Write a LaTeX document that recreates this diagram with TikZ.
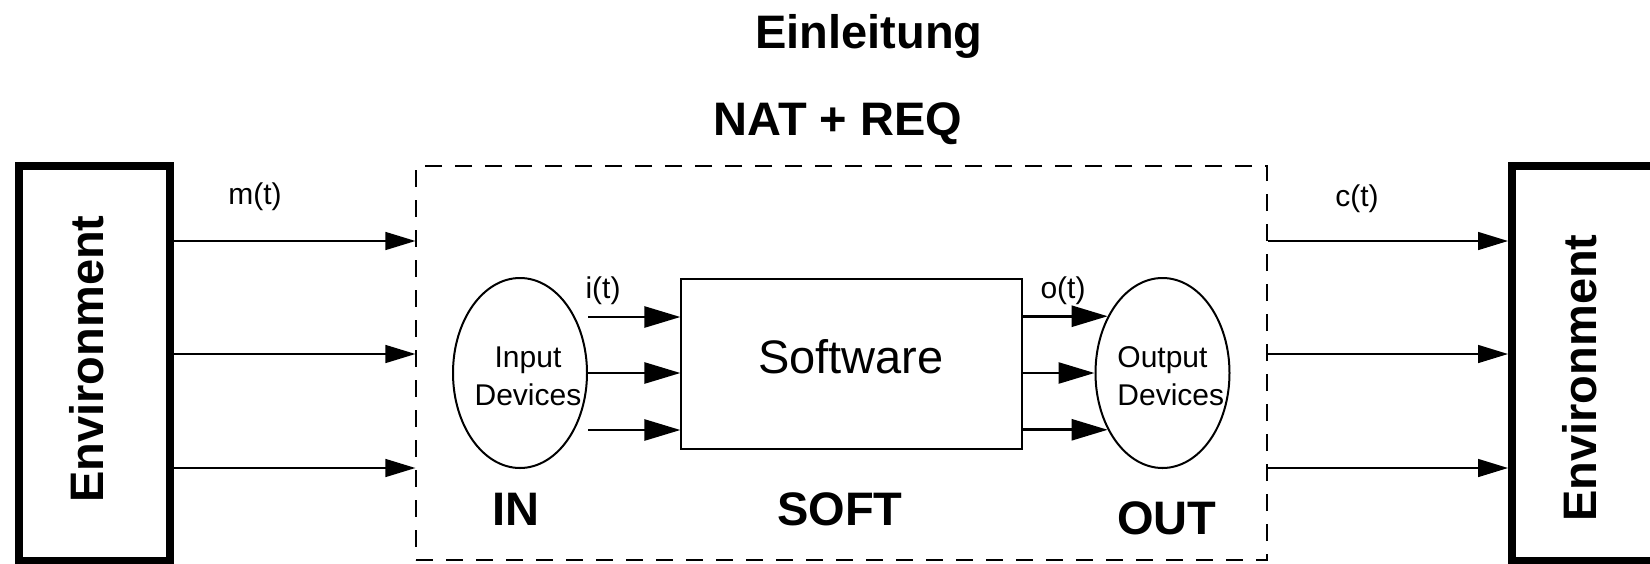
\documentclass[tikz,border=0pt]{standalone}
\usepackage{fontspec}
\setmainfont{Liberation Sans}
\usetikzlibrary{arrows.meta,positioning,shapes.geometric}

\begin{document}
\begin{tikzpicture}[x=0.5pt,y=-0.5pt,
    envbox/.style={draw,line width=4pt,minimum width=75.5pt,minimum height=197.5pt,inner sep=0pt},
    sysbox/.style={draw,line width=0.6pt,dash pattern=on 8.5pt off 6.5pt,minimum width=425.5pt,minimum height=197pt,inner sep=0pt},
    swbox/.style={draw,line width=0.6pt,minimum width=170.5pt,minimum height=85pt,inner sep=0pt},
    dev/.style={draw,ellipse,line width=1pt,minimum width=67pt,minimum height=95pt,inner sep=0pt},
    envarrow/.style={line width=0.75pt,-{Triangle[length=15pt,width=9pt]}},
    devarrow/.style={line width=1.3pt,-{Triangle[length=18pt,width=10.5pt]}},
    big/.style={font=\fontsize{23.5}{28}\selectfont\bfseries},
    small/.style={font=\fontsize{15}{19}\selectfont}]
  \useasboundingbox (0,0) rectangle (1650,563);

  \node[big,anchor=base] (title) at (869,48) {Einleitung};
  \node[big,anchor=base] (natreq) at (838,135) {NAT + REQ};

  \node[envbox] (envl) at (94.5,363.5) {};
  \node[envbox,minimum width=84pt] (envr) at (1596,363.5) {};
  \node[big,rotate=90] (envltext) at (87,359) {Environment};
  \node[big,rotate=90] (envrtext) at (1580,378) {Environment};

  \node[sysbox] (sys) at (841.5,363) {};
  \node[swbox] (sw) at (851.5,364) {};
  \node[font=\fontsize{23.5}{28}\selectfont,anchor=base] (swtext) at (851,373) {Software};

  \node[dev] (in) at (520,373) {};
  \node[dev] (out) at (1162.5,373) {};
  \node[small,align=center] (intext) at (528,376) {Input\\Devices};
  \node[small,align=left,anchor=west,inner sep=0pt] (outtext) at (1117,376) {Output\\Devices};

  \foreach \y in {241,354,468} {
    \draw[envarrow] (envl.east |- 0,\y) -- (sys.west |- 0,\y);
    \draw[envarrow] (sys.east |- 0,\y) -- (envr.west |- 0,\y);
  }
  \foreach \y in {317,373,430}
    \draw[devarrow] (in.east |- 0,\y) -- (sw.west |- 0,\y);
  \foreach \a in {134,180,226}
    \draw[devarrow] (sw.east |- out.\a) -- (out.\a);

  \node[small] (m) at (255,197) {m(t)};
  \node[small] (c) at (1357,199) {c(t)};
  \node[small] (i) at (603,291) {i(t)};
  \node[small] (o) at (1063,291) {o(t)};

  \node[big,anchor=base] (inlabel) at (516,525) {IN};
  \node[big,anchor=base] (softlabel) at (840,525) {SOFT};
  \node[big,anchor=base] (outlabel) at (1167,534) {OUT};
\end{tikzpicture}
\end{document}
